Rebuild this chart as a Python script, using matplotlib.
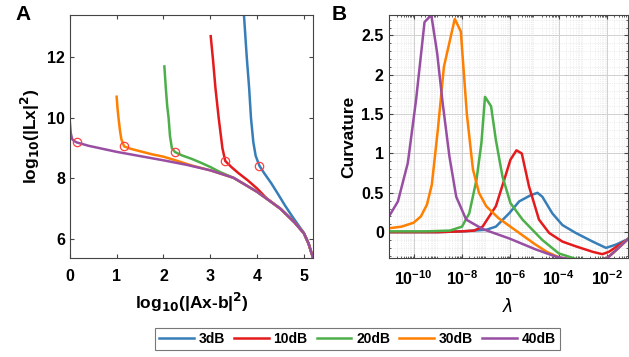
import numpy as np
import matplotlib
matplotlib.use("Agg")
import matplotlib.pyplot as plt
from matplotlib.ticker import LogLocator, NullFormatter, MultipleLocator, FuncFormatter

plt.rcParams['font.family'] = ['Liberation Sans', 'DejaVu Sans']
plt.rcParams['font.weight'] = 'bold'
plt.rcParams['mathtext.default'] = 'bf'

# Series labels and colours
labels = ['3dB', '10dB', '20dB', '30dB', '40dB']
colors = ['#377EB8', '#E41A1C', '#4DAF4A', '#FF7F00', '#984EA3']

# Panel A: L-curves, log10(|Ax-b|^2) vs log10(|Lx|^2)
lc_x = {
    '3dB':  [3.72, 3.78, 3.83, 3.87, 3.92, 3.97, 4.05, 4.15, 4.30, 4.45, 4.60, 4.75, 4.90, 5.00, 5.10, 5.16, 5.20],
    '10dB': [3.01, 3.06, 3.11, 3.18, 3.22, 3.26, 3.32, 3.45, 3.60, 3.80, 4.00, 4.20, 4.50, 4.80, 5.00, 5.10, 5.16, 5.20],
    '20dB': [2.02, 2.05, 2.08, 2.11, 2.14, 2.18, 2.25, 2.40, 2.60, 2.80, 3.00, 3.20, 3.50, 4.00, 4.50, 4.80, 5.00, 5.10, 5.16, 5.20],
    '30dB': [1.00, 1.02, 1.04, 1.07, 1.10, 1.16, 1.30, 1.50, 1.75, 2.00, 2.30, 2.60, 3.00, 3.50, 4.00, 4.50, 4.80, 5.00, 5.10, 5.16, 5.20],
    '40dB': [0.00, 0.02, 0.05, 0.10, 0.15, 0.40, 0.70, 1.00, 1.50, 2.00, 2.50, 3.00, 3.50, 4.00, 4.50, 4.80, 5.00, 5.10, 5.16, 5.20],
}
lc_y = {
    '3dB':  [13.40, 12.00, 11.00, 10.00, 9.20, 8.75, 8.42, 8.18, 7.85, 7.48, 7.10, 6.75, 6.42, 6.20, 5.85, 5.55, 5.37],
    '10dB': [12.70, 11.90, 11.00, 10.00, 9.50, 9.00, 8.58, 8.38, 8.18, 7.94, 7.67, 7.35, 7.00, 6.55, 6.19, 5.85, 5.55, 5.37],
    '20dB': [11.70, 11.00, 10.40, 10.00, 9.40, 9.00, 8.87, 8.76, 8.65, 8.52, 8.38, 8.22, 8.02, 7.56, 7.00, 6.55, 6.19, 5.85, 5.55, 5.37],
    '30dB': [10.70, 10.30, 10.00, 9.60, 9.30, 9.06, 8.98, 8.90, 8.80, 8.72, 8.58, 8.43, 8.27, 8.02, 7.56, 7.00, 6.55, 6.19, 5.85, 5.55, 5.37],
    '40dB': [9.87, 9.50, 9.30, 9.23, 9.19, 9.08, 8.98, 8.88, 8.74, 8.60, 8.45, 8.27, 8.02, 7.56, 7.00, 6.55, 6.19, 5.85, 5.55, 5.37],
}
# Corner points (red circles)
corner_x = [4.05, 3.32, 2.25, 1.16, 0.15]
corner_y = [8.42, 8.58, 8.87, 9.06, 9.19]

# Panel B: curvature vs lambda (exponents of 10)
lam_exp = {
    '3dB':  [-11.0, -9.0, -8.0, -7.0, -6.6, -6.05, -5.64, -5.16, -4.88, -4.68, -4.27, -3.85, -3.3, -2.6, -2.05, -1.65, -1.15],
    '10dB': [-11.0, -9.0, -8.0, -7.5, -7.15, -6.6, -6.25, -6.0, -5.75, -5.53, -5.23, -4.82, -4.4, -3.85, -3.3, -2.6, -2.2, -1.93, -1.15],
    '20dB': [-11.0, -9.5, -8.5, -8.0, -7.7, -7.4, -7.2, -7.05, -6.8, -6.6, -6.33, -6.0, -5.5, -4.68, -4.0, -3.3, -2.5, -2.0, -1.6, -1.15],
    '30dB': [-11.0, -10.5, -10.0, -9.7, -9.45, -9.25, -9.0, -8.75, -8.3, -8.05, -7.8, -7.55, -7.3, -7.0, -6.5, -6.0, -5.5, -5.0, -4.5, -4.0, -3.5, -2.5, -2.0, -1.6, -1.15],
    '40dB': [-11.0, -10.65, -10.24, -9.9, -9.55, -9.27, -9.03, -8.8, -8.52, -8.24, -7.83, -7.15, -6.05, -4.95, -4.13, -3.3, -2.5, -2.0, -1.6, -1.15],
}
curv = {
    '3dB':  [0.0, 0.0, 0.01, 0.03, 0.07, 0.24, 0.39, 0.47, 0.50, 0.45, 0.24, 0.09, -0.01, -0.12, -0.20, -0.16, -0.09],
    '10dB': [0.0, 0.0, 0.01, 0.02, 0.07, 0.33, 0.67, 0.92, 1.04, 1.00, 0.58, 0.16, -0.01, -0.12, -0.18, -0.25, -0.28, -0.25, -0.09],
    '20dB': [0.01, 0.01, 0.02, 0.07, 0.24, 0.67, 1.13, 1.72, 1.60, 1.17, 0.71, 0.37, 0.16, -0.10, -0.27, -0.34, -0.36, -0.33, -0.22, -0.09],
    '30dB': [0.05, 0.07, 0.12, 0.20, 0.35, 0.60, 1.30, 2.10, 2.71, 2.55, 1.50, 0.80, 0.50, 0.33, 0.18, 0.07, -0.04, -0.15, -0.25, -0.32, -0.35, -0.37, -0.33, -0.22, -0.09],
    '40dB': [0.21, 0.39, 0.88, 1.68, 2.67, 2.76, 2.28, 1.64, 0.96, 0.45, 0.16, 0.04, -0.08, -0.22, -0.31, -0.36, -0.37, -0.33, -0.22, -0.09],
}

fig = plt.figure(figsize=(6.29, 3.57), dpi=100)
axA = fig.add_axes([0.111, 0.277, 0.387, 0.681])
axB = fig.add_axes([0.618, 0.277, 0.380, 0.681])

# --- panel A
handles = []
for lab, col in zip(labels, colors):
    h, = axA.plot(lc_x[lab], lc_y[lab], color=col, lw=1.8, label=lab)
    handles.append(h)
axA.plot(corner_x, corner_y, 'o', mfc='none', mec='#FF4040', ms=6, mew=0.9, zorder=5)
axA.set_xlim(0, 5.2)
axA.set_ylim(5.37, 13.4)
axA.set_xticks([0, 1, 2, 3, 4, 5])
axA.set_yticks([6, 8, 10, 12])
axA.set_xlabel('log$_{10}$(|Ax-b|$^2$)', fontsize=12.5, fontweight='bold', labelpad=5)
axA.set_ylabel('log$_{10}$(|Lx|$^2$)', fontsize=12.5, fontweight='bold', labelpad=4)

# --- panel B
for lab, col in zip(labels, colors):
    axB.plot(10.0 ** np.array(lam_exp[lab]), curv[lab], color=col, lw=1.8)
axB.set_xscale('log')
axB.set_xlim(10 ** -11.03, 10 ** -1.15)
axB.set_ylim(-0.33, 2.76)
axB.set_xticks([1e-10, 1e-8, 1e-6, 1e-4, 1e-2])
axB.xaxis.set_minor_locator(LogLocator(base=10, subs=np.arange(2, 10), numticks=30))
axB.xaxis.set_minor_formatter(NullFormatter())
axB.yaxis.set_major_locator(MultipleLocator(0.5))
axB.yaxis.set_minor_locator(MultipleLocator(0.1))
axB.yaxis.set_major_formatter(FuncFormatter(lambda v, p: f'{v:g}'))
axB.grid(True, which='major', color='#d0d0d0', lw=0.7)
axB.grid(True, which='minor', color='#e0e0e0', lw=0.5, ls=':')
axB.set_axisbelow(True)
axB.set_xlabel('λ', fontsize=12.5, fontweight='normal', fontstyle='italic',
               family=['DejaVu Sans'], labelpad=7)
axB.set_ylabel('Curvature', fontsize=12.5, fontweight='bold', labelpad=4)

for ax in (axA, axB):
    ax.tick_params(which='both', direction='in', top=True, right=True, labelsize=11.5, color='#444444')
    ax.tick_params(which='major', length=3)
    ax.tick_params(which='minor', length=1.5)
    ax.tick_params(axis='x', which='major', pad=8)
    for s in ax.spines.values():
        s.set_color('#444444')
        s.set_linewidth(0.8)

fig.text(0.024, 0.945, 'A', fontsize=15, fontweight='bold')
fig.text(0.527, 0.945, 'B', fontsize=15, fontweight='bold')

leg = fig.legend(handles=handles, loc='center', bbox_to_anchor=(0.568, 0.050), ncol=5,
                 frameon=True, fancybox=False, edgecolor='#555555',
                 handlelength=2.5, columnspacing=0.65, handletextpad=0.35,
                 borderpad=0.3, borderaxespad=0, prop={'weight': 'bold', 'size': 10})
leg.get_frame().set_linewidth(0.8)

fig.savefig('out.png', dpi=100)
